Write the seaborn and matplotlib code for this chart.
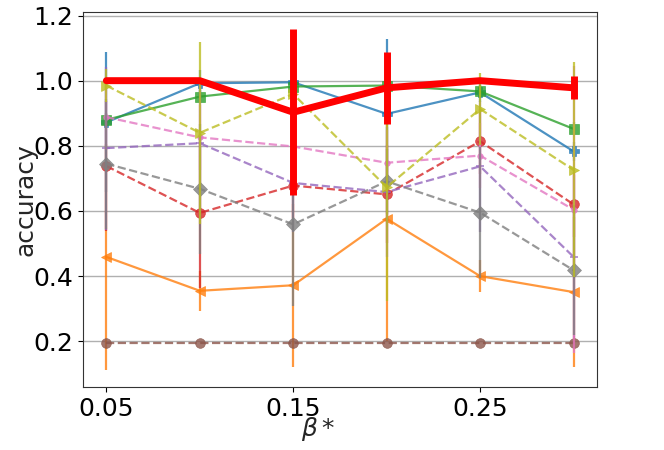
import matplotlib
matplotlib.use("Agg")
import matplotlib.pyplot as plt
import seaborn as sns
import numpy as np
import pandas as pd

x = [0.05, 0.10, 0.15, 0.20, 0.25, 0.30]

blue_y   = [0.872, 0.992, 0.995, 0.898, 0.964, 0.783]
blue_e   = [0.215, 0.04, 0.04, 0.23, 0.03, 0.03]
orange_y = [0.459, 0.355, 0.372, 0.576, 0.400, 0.351]
orange_e = [0.347, 0.062, 0.25, 0.375, 0.05, 0.23]
green_y  = [0.880, 0.951, 0.982, 0.985, 0.967, 0.852]
green_e  = [0.02, 0.02, 0.02, 0.02, 0.02, 0.02]
red_y    = [0.738, 0.594, 0.678, 0.651, 0.814, 0.620]
red_e    = [0.2, 0.23, 0.1, 0.15, 0.1, 0.1]
purple_y = [0.793, 0.808, 0.686, 0.658, 0.737, 0.459]
purple_e = [0.25, 0.2, 0.15, 0.2, 0.2, 0.25]
brown_y  = [0.196, 0.196, 0.196, 0.196, 0.196, 0.196]
brown_e  = [0.0, 0.0, 0.0, 0.0, 0.0, 0.0]
pink_y   = [0.888, 0.826, 0.798, 0.748, 0.770, 0.604]
pink_e   = [0.1, 0.1, 0.1, 0.1, 0.1, 0.44]
gray_y   = [0.745, 0.668, 0.559, 0.691, 0.595, 0.418]
gray_e   = [0.2, 0.2, 0.25, 0.1, 0.2, 0.2]
olive_y  = [0.985, 0.840, 0.959, 0.673, 0.913, 0.726]
olive_e  = [0.05, 0.28, 0.11, 0.35, 0.11, 0.33]
best_y   = [1.0, 1.0, 0.903, 0.978, 1.0, 0.978]
best_e   = [0.0, 0.0, 0.255, 0.11, 0.0, 0.035]

xticks = [0.05, 0.15, 0.25]
xtick_labels = ["0.05", "0.15", "0.25"]

series = [
    (blue_y, blue_e, "#1f77b4", "P", "-", 1.6, 7),
    (orange_y, orange_e, "#ff7f0e", "<", "-", 1.6, 7),
    (green_y, green_e, "#2ca02c", "s", "-", 1.6, 7),
    (red_y, red_e, "#d62728", "o", "--", 1.6, 7),
    (purple_y, purple_e, "#9467bd", "+", "--", 1.6, 6),
    (brown_y, brown_e, "#8c564b", "o", "--", 1.6, 7),
    (pink_y, pink_e, "#e377c2", ".", "--", 1.6, 8),
    (gray_y, gray_e, "#7f7f7f", "D", "--", 1.6, 7),
    (olive_y, olive_e, "#bcbd22", ">", "--", 1.6, 7),
]

sns.set_style("ticks")
plt.rcParams['font.family'] = ['DejaVu Sans']
plt.rcParams['axes.edgecolor'] = 'black'
plt.rcParams['xtick.color'] = 'black'
plt.rcParams['ytick.color'] = 'black'

fig = plt.figure(figsize=(6.64, 4.5), dpi=100)
ax = fig.add_axes([0.125, 0.14, 0.774, 0.833])

for yv, ev, c, m, ls, lw, ms in series:
    ax.errorbar(x, yv, yerr=ev, fmt='none', ecolor=c, elinewidth=1.6, alpha=0.8)
    df = pd.DataFrame({"x": x, "y": yv})
    sns.lineplot(data=df, x="x", y="y", ax=ax, color=c, marker=m, linestyle=ls,
                 linewidth=lw, markersize=ms, alpha=0.8, markeredgecolor=c,
                 markeredgewidth=1.2 if m == "+" else 0.5)

ax.errorbar(x, best_y, yerr=best_e, fmt='none', ecolor='red', elinewidth=5)
sns.lineplot(data=pd.DataFrame({"x": x, "y": best_y}), x="x", y="y", ax=ax,
             color='red', linewidth=5)

ax.set_xticks(xticks)
ax.set_xticklabels(xtick_labels)
ax.tick_params(labelsize=18)
ax.yaxis.grid(True, color='#b0b0b0', linewidth=1)
ax.xaxis.grid(False)
ax.set_axisbelow(True)
for s in ax.spines.values():
    s.set_visible(True)
    s.set_color('#333333')

ax.set_ylabel("accuracy", fontsize=18)
ax.set_xlabel(r"$\beta*$", fontsize=18)
ax.yaxis.set_label_coords(-0.088, 0.5)
ax.xaxis.set_label_coords(0.457, -0.075)

fig.savefig("out.png", dpi=100)
